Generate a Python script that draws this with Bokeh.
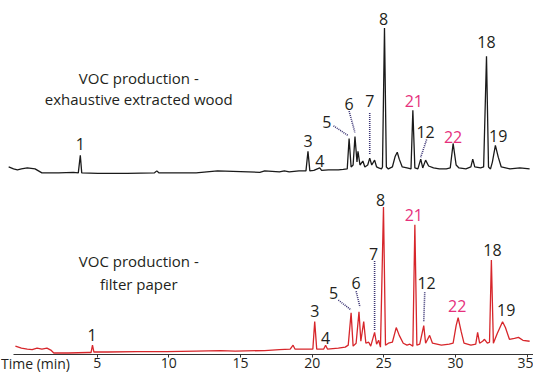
from bokeh.plotting import figure
from bokeh.models import Range1d, LinearAxis, FixedTicker, ColumnDataSource, Label
from bokeh.core.properties import value
from bokeh.embed import file_html
from bokeh.resources import INLINE

# ---------------- data ----------------
TICKS = [5, 10, 15, 20, 25, 30, 35]

# exhaustive extracted wood (black) : time (min), abundance (a.u.)
wood_t = [-1.18, -0.84, -0.57, -0.29, 0.12, 0.66, 1.14, 2.31, 3.34, 3.68, 3.82, 3.92,
          5.05, 7.10, 9.00, 9.16, 9.30, 11.90, 13.40, 16.35, 16.69, 17.72, 18.06, 18.40,
          19.08, 19.57, 19.71, 19.84, 20.12, 20.53, 20.66, 21.14, 21.83, 22.17, 22.45,
          22.58, 22.72, 22.86, 22.99, 23.13, 23.20, 23.34, 23.54, 23.68, 23.88, 24.02,
          24.16, 24.36, 24.50, 24.64, 24.84, 24.91, 25.05, 25.18, 25.32, 25.60, 25.80,
          25.94, 26.08, 26.29, 26.62, 26.90, 27.03, 27.17, 27.38, 27.58, 27.72, 27.92,
          28.13, 28.47, 28.88, 29.36, 29.64, 29.84, 30.05, 30.25, 30.73, 31.08, 31.21,
          31.35, 31.76, 31.97, 32.17, 32.31, 32.45, 32.58, 32.79, 32.99, 33.20, 33.81,
          34.50, 35.18]
wood_i = [5, 3, 2, 3, 4, 3, -1, -1, -0.5, -1, 17, -1,
          -1.5, -1.5, -1, 1, -1, -1, 1, -0.5, 1, 0, 1, 0,
          1, 1, 21, 1, 1.5, 4, 1.5, 2, 2, 2.5, 3,
          34, 5, 7, 36, 10, 21, 7, 11, 5, 7, 14,
          7, 12, 5, 4, 3, 5, 147, 5, 3, 5, 16,
          20, 13, 5, 4, 3, 63, 4, 3, 13, 4, 12,
          6, 4, 3, 3, 4, 29, 7, 4, 3, 5, 13,
          5, 4, 5, 118, 5, 3, 10, 27, 15, 5, 3,
          4, 3]

# filter paper (red)
paper_t = [-0.71, -0.29, 0.12, 0.46, 0.80, 1.14, 1.49, 1.76, 1.97, 2.99, 4.36, 4.57,
           4.67, 4.77, 5.73, 7.79, 9.84, 11.90, 13.60, 14.63, 16.69, 17.72, 18.47, 18.67,
           18.80, 19.42, 20.05, 20.18, 20.32, 20.81, 20.94, 21.07, 21.83, 22.31, 22.52,
           22.72, 22.86, 23.07, 23.27, 23.40, 23.60, 23.75, 23.95, 24.09, 24.36, 24.50,
           24.64, 24.77, 24.98, 25.12, 25.32, 25.60, 25.87, 26.08, 26.36, 26.62, 26.82,
           27.03, 27.17, 27.31, 27.51, 27.79, 27.92, 28.20, 28.40, 29.02, 29.57, 29.84,
           30.05, 30.19, 30.40, 30.60, 31.08, 31.42, 31.55, 31.69, 31.90, 32.03, 32.23,
           32.38, 32.51, 32.65, 32.92, 33.29, 33.49, 33.77, 34.12, 34.40, 34.71, 35.18]
paper_i = [5, 3, 2, 1.5, 3, 2, 3, 1, -2, -2, -1.5, -1.5,
           6, -1, -1, -0.5, -0.5, 0, 0.5, 0, 0.5, 1.5, 2, 6,
           2, 2, 2, 30, 2, 2, 6, 2, 3, 4, 6,
           39, 5, 8, 40, 10, 30, 8, 9, 5, 19, 7,
           11, 4, 147, 6, 8, 9, 24, 16, 8, 6, 7,
           5, 129, 6, 7, 26, 8, 16, 8, 6, 7, 8,
           26, 34, 20, 8, 6, 7, 19, 8, 10, 12, 8,
           9, 93, 8, 18, 30, 24, 12, 13, 14, 11, 10]

# peak labels
wood_lab = ["1", "3", "4", "5", "6", "7", "8", "21", "12", "22", "18", "19"]
wood_lab_t = [3.82, 19.71, 20.53, 21.02, 22.58, 24.02, 24.98, 27.10, 27.92, 29.84, 32.17, 32.99]
wood_lab_i = [28, 32, 11, 51, 69, 72, 156, 72, 41, 36, 133, 37]

paper_lab = ["1", "3", "4", "5", "6", "7", "8", "21", "12", "22", "18", "19"]
paper_lab_t = [4.64, 20.18, 20.94, 21.49, 23.06, 24.29, 24.77, 27.10, 27.99, 30.12, 32.58, 33.54]
paper_lab_i = [16, 41, 13, 59, 69, 99, 154, 139, 69, 46, 103, 42]

# leader lines (label -> peak)
wood_lead_t0 = [21.49, 22.58, 24.02, 27.99]
wood_lead_i0 = [47, 62, 60, 33]
wood_lead_t1 = [22.52, 22.99, 24.02, 27.58]
wood_lead_i1 = [37, 40, 18, 15]

paper_lead_t0 = [21.83, 23.07, 24.36, 27.86]
paper_lead_i0 = [52, 61, 92, 60]
paper_lead_t1 = [22.72, 23.34, 24.36, 27.79]
paper_lead_i1 = [42, 45, 21, 30]

# ---------------- style ----------------
FONT = "Open Sans"
BLACK = "#231f20"
RED = "#d7262b"
PINK = "#e6307c"
LEAD = "#3b3474"
NEW_IDS = {"21", "22"}

p = figure(width=533, height=376, output_backend="svg", toolbar_location=None,
           x_range=Range1d(-1.75, 35.45), y_range=Range1d(-26, 358),
           x_axis_location=None, y_axis_location=None, min_border=0,
           outline_line_color=None, background_fill_color="white",
           border_fill_color="white")
p.extra_y_ranges = {"top": Range1d(-209, 175)}
p.grid.visible = False

ax = LinearAxis(ticker=FixedTicker(ticks=TICKS), bounds=(-0.84, 35.45),
                fixed_location=-4)
ax.major_tick_out = 3
ax.major_tick_in = 0
ax.minor_tick_out = 0
ax.minor_tick_in = 0
ax.major_label_standoff = 0
ax.axis_line_color = "#333333"
ax.axis_line_width = 1.2
ax.major_tick_line_color = "#333333"
ax.major_label_text_font = FONT
ax.major_label_text_font_size = "14px"
ax.major_label_text_color = BLACK
p.add_layout(ax, "below")

# traces
p.line(wood_t, wood_i, y_range_name="top", line_color="#1a1a1a", line_width=1.3)
p.line(paper_t, paper_i, line_color=RED, line_width=1.3)

# leader lines
p.segment(wood_lead_t0, wood_lead_i0, wood_lead_t1, wood_lead_i1, y_range_name="top",
          line_color=LEAD, line_width=1.6, line_dash="1 1")
p.segment(paper_lead_t0, paper_lead_i0, paper_lead_t1, paper_lead_i1,
          line_color=LEAD, line_width=1.6, line_dash="1 1")

# peak labels
wsrc = ColumnDataSource(dict(x=wood_lab_t, y=wood_lab_i, text=wood_lab,
                             color=[PINK if s in NEW_IDS else BLACK for s in wood_lab]))
psrc = ColumnDataSource(dict(x=paper_lab_t, y=paper_lab_i, text=paper_lab,
                             color=[PINK if s in NEW_IDS else BLACK for s in paper_lab]))
p.text(x="x", y="y", text="text", source=wsrc, y_range_name="top", text_color="color",
       text_font=value(FONT), text_font_size="16px", text_align="center",
       text_baseline="middle")
p.text(x="x", y="y", text="text", source=psrc, text_color="color",
       text_font=value(FONT), text_font_size="16px", text_align="center",
       text_baseline="middle")

# titles
for txt, yy, rng in [("VOC production -", 96, "top"),
                     ("exhaustive extracted wood", 74, "top"),
                     ("VOC production -", 92, "default"),
                     ("filter paper", 68, "default")]:
    p.add_layout(Label(x=7.9, y=yy, y_range_name=rng, text=txt, text_font=FONT,
                       text_font_size="15px", text_color=BLACK, text_align="center",
                       text_baseline="middle"))

p.add_layout(Label(x=-1.72, y=-13, text="Time (min)", text_font=FONT,
                   text_font_size="14px", text_color=BLACK, text_align="left",
                   text_baseline="middle"))

open("out.html", "w").write(file_html(p, INLINE))
